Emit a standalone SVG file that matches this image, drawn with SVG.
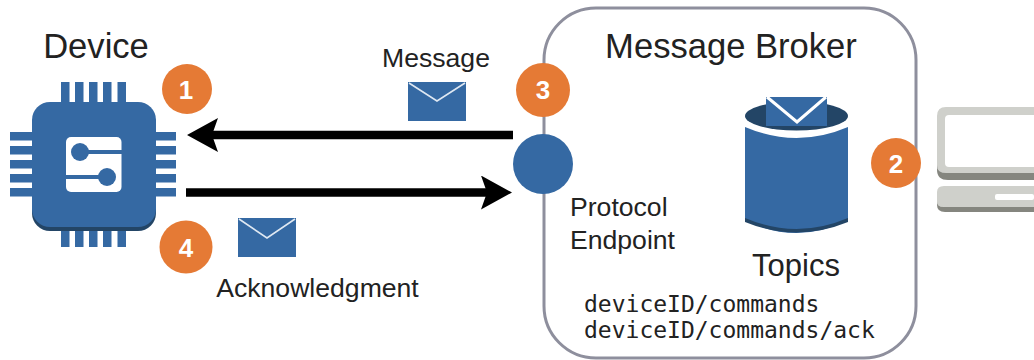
<svg xmlns="http://www.w3.org/2000/svg" width="1034" height="360" viewBox="0 0 1034 360">
<style>
text{font-family:"Liberation Sans",Arial,sans-serif;fill:#222}
.lbl{font-size:26.6px}
.big{font-size:34.6px}
.mono{font-family:"DejaVu Sans Mono","Liberation Mono",monospace;font-size:23px}
.num{font-size:26px;font-weight:bold;fill:#fff;text-anchor:middle}
.badge{fill:#e57a35}
.blue{fill:#3569a3}
.dark{fill:#234566}
.env{fill:none;stroke:#dfe8f2;stroke-width:1.6}
.wire{stroke:#000;stroke-width:8.5;fill:none}
.trace{stroke:#3569a3;stroke-width:4;fill:none}
</style>
<defs>
<marker id="ah" markerUnits="userSpaceOnUse" markerWidth="32" markerHeight="34" refX="6" refY="17" orient="auto">
<path d="M0,0 L31,17 L0,34 L6,17 Z" fill="#000"/>
</marker>
</defs>

<g id="broker">
<rect x="544" y="8" width="372" height="350" rx="52" fill="#fff" stroke="#8e8f9d" stroke-width="3"/>
<text class="big" x="731" y="58" text-anchor="middle">Message Broker</text>
</g>

<g id="computer">
<path d="M1034,107 H946 Q937,107 937,116 V165 Q937,173 946,173 H1034 Z" fill="#cfd0cb"/>
<path d="M937,165 V170 Q937,180 948,180 H1034 V173 H946 Q937,173 937,165 Z" fill="#85867f"/>
<path d="M1034,115 H949 Q945,115 945,119 V163 Q945,167 949,167 H1034 Z" fill="#fff"/>
<path d="M1034,186 H944 Q937,186 937,192 V202 Q937,207 944,207 H1034 Z" fill="#cfd0cb"/>
<path d="M937,202 V205 Q937,212 945,212 H1034 V207 H944 Q937,207 937,202 Z" fill="#85867f"/>
<rect x="995" y="194" width="39" height="6" rx="2" fill="#fff"/>
</g>

<g id="connectors">
<path class="wire" d="M513,135 H212" marker-end="url(#ah)"/>
<path class="wire" d="M186,192.500 H487" marker-end="url(#ah)"/>
</g>

<g id="device">
<text class="big" x="96" y="58" text-anchor="middle">Device</text>
<g class="blue">
<rect x="61" y="82" width="8.500" height="24"/><rect x="75" y="82" width="8.500" height="24"/><rect x="89" y="82" width="8.500" height="24"/><rect x="103" y="82" width="8.500" height="24"/><rect x="117.500" y="82" width="8.500" height="24"/>
<rect x="61" y="222" width="8.500" height="25"/><rect x="75" y="222" width="8.500" height="25"/><rect x="89" y="222" width="8.500" height="25"/><rect x="103" y="222" width="8.500" height="25"/><rect x="117.500" y="222" width="8.500" height="25"/>
<rect x="10" y="132" width="25" height="8.500"/><rect x="10" y="146" width="25" height="8.500"/><rect x="10" y="160" width="25" height="8.500"/><rect x="10" y="174" width="25" height="8.500"/><rect x="10" y="188" width="25" height="8.500"/>
<rect x="152" y="132" width="24" height="8.500"/><rect x="152" y="146" width="24" height="8.500"/><rect x="152" y="160" width="24" height="8.500"/><rect x="152" y="174" width="24" height="8.500"/><rect x="152" y="188" width="24" height="8.500"/>
</g>
<rect x="32" y="106" width="124" height="125" rx="18" class="dark"/>
<rect x="32" y="102" width="124" height="125" rx="18" class="blue"/>
<rect x="66" y="137" width="55.500" height="55" rx="5" fill="#fff"/>
<circle cx="80" cy="152" r="9" class="blue"/>
<path class="trace" d="M80,152 H122"/>
<circle cx="107" cy="177" r="9" class="blue"/>
<path class="trace" d="M65,177 H107"/>
</g>

<g id="badge1"><circle cx="187" cy="89" r="25" class="badge"/><text class="num" x="186" y="99">1</text></g>
<g id="badge4"><circle cx="186" cy="247" r="26.500" class="badge"/><text class="num" x="186" y="257">4</text></g>
<g id="badge3"><circle cx="543" cy="90" r="27" class="badge"/><text class="num" x="543" y="99">3</text></g>
<g id="badge2"><circle cx="896" cy="163" r="25" class="badge"/><text class="num" x="896" y="173">2</text></g>

<g id="msg-top">
<text class="lbl" x="436" y="67" text-anchor="middle">Message</text>
<rect x="408" y="82" width="58" height="39" class="blue"/>
<path class="env" d="M409,83 L437,101 L465,83"/>
</g>

<g id="msg-bottom">
<rect x="238" y="218" width="58" height="39" class="blue"/>
<path class="env" d="M239,219 L267,238 L295,219"/>
<text class="lbl" x="317.500" y="297" text-anchor="middle">Acknowledgment</text>
</g>

<g id="endpoint">
<circle cx="543" cy="164" r="30" class="blue"/>
<text class="lbl" x="570" y="216">Protocol</text>
<text class="lbl" x="570" y="249">Endpoint</text>
</g>

<g id="topics">
<ellipse cx="796.500" cy="116" rx="51.500" ry="14.500" class="dark"/>
<path d="M745,127 Q796.500,149 848,127 V220 Q796.500,246 745,220 Z" class="blue"/>
<path d="M745,218 V222 Q796.500,243 848,222 V218 Q796.500,240 745,218 Z" class="dark"/>
<rect x="766" y="97" width="61" height="29" class="blue"/>
<path d="M767,97 L797,122 L826,97" fill="none" stroke="#fff" stroke-width="3"/>
<text class="big" x="796" y="276" text-anchor="middle" style="font-size:31px">Topics</text>
<text class="mono" x="584" y="312">deviceID/commands</text>
<text class="mono" x="584" y="338">deviceID/commands/ack</text>
</g>
</svg>
